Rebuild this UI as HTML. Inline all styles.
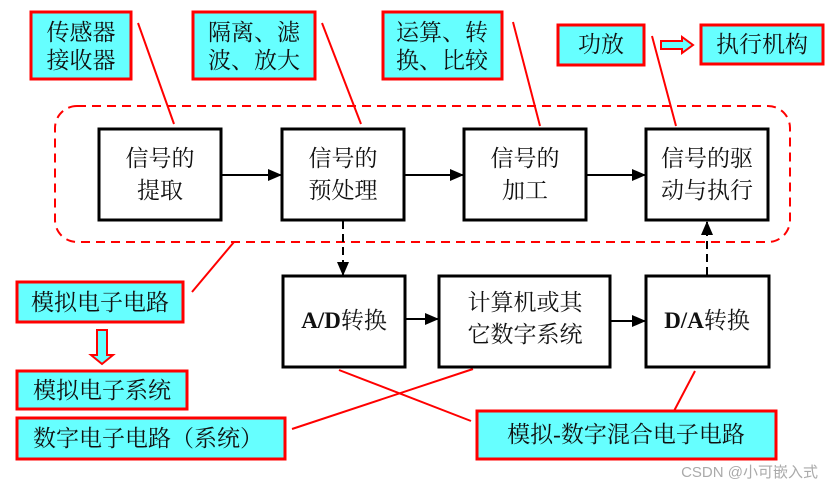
<!DOCTYPE html>
<html><head><meta charset="utf-8"><style>
html,body{margin:0;padding:0;background:#fff}
svg text{font-family:"Liberation Serif","Noto Serif CJK SC",serif;font-size:23px;fill:#111}
</style></head><body>
<svg width="834" height="492" viewBox="0 0 834 492" xmlns="http://www.w3.org/2000/svg">
<defs><marker id="a" markerWidth="14" markerHeight="12" refX="13" refY="6" orient="auto" markerUnits="userSpaceOnUse"><path d="M0,0 L14,6 L0,12Z" fill="#000"/></marker></defs>
<g fill="#66ffff" stroke="#f00" stroke-width="3">
<rect x="31" y="12" width="100" height="67"/>
<rect x="193" y="12" width="122" height="67"/>
<rect x="383" y="12" width="119" height="67"/>
<rect x="558" y="25" width="86" height="40"/>
<rect x="701" y="25" width="122" height="39"/>
<rect x="17" y="282" width="166" height="40"/>
<rect x="17" y="371" width="170" height="38"/>
<rect x="17" y="418" width="268" height="41"/>
<rect x="477" y="411" width="299" height="48"/>
</g>
<path d="M661,41 H682 V37 L693,45 L682,53 V49 H661Z" fill="#66ffff" stroke="#f00" stroke-width="2"/>
<path d="M97,330 H107 V355 H113 L102,364 L91,355 H97Z" fill="#66ffff" stroke="#f00" stroke-width="2"/>
<rect x="55" y="106" width="735" height="136" rx="22" fill="none" stroke="#f00" stroke-width="2" stroke-dasharray="9,6"/>
<g stroke="#f00" stroke-width="2">
<line x1="138" y1="23" x2="174" y2="124"/>
<line x1="322" y1="23" x2="361" y2="124"/>
<line x1="513" y1="22" x2="540" y2="126"/>
<line x1="652" y1="36" x2="676" y2="126"/>
<line x1="192" y1="292" x2="234" y2="242"/>
<line x1="339" y1="370" x2="471" y2="421"/>
<line x1="473" y1="369" x2="292" y2="429"/>
<line x1="695" y1="371" x2="674" y2="411"/>
</g>
<g fill="#fff" stroke="#000" stroke-width="3">
<rect x="99" y="129" width="122" height="91"/>
<rect x="282" y="129" width="122" height="91"/>
<rect x="464" y="129" width="122" height="91"/>
<rect x="646" y="129" width="122" height="91"/>
<rect x="283" y="276" width="122" height="91"/>
<rect x="439" y="276" width="171" height="91"/>
<rect x="646" y="276" width="123" height="91"/>
</g>
<g stroke="#000" stroke-width="2">
<line x1="221" y1="175" x2="281" y2="175" marker-end="url(#a)"/>
<line x1="404" y1="175" x2="463" y2="175" marker-end="url(#a)"/>
<line x1="586" y1="175" x2="645" y2="175" marker-end="url(#a)"/>
<line x1="405" y1="319" x2="438" y2="319" marker-end="url(#a)"/>
<line x1="610" y1="321" x2="645" y2="321" marker-end="url(#a)"/>
<line x1="343" y1="221" x2="343" y2="275" stroke-dasharray="8,5" marker-end="url(#a)"/>
<line x1="707" y1="275" x2="707" y2="222" stroke-dasharray="8,5" marker-end="url(#a)"/>
</g>
<g text-anchor="middle">
<text x="81" y="40">传感器</text><text x="81" y="68">接收器</text>
<text x="254" y="40">隔离、滤</text><text x="254" y="68">波、放大</text>
<text x="442" y="40">运算、转</text><text x="442" y="68">换、比较</text>
<text x="601" y="52">功放</text><text x="762" y="52">执行机构</text>
<text x="160" y="166">信号的</text><text x="160" y="198">提取</text>
<text x="343" y="166">信号的</text><text x="343" y="198">预处理</text>
<text x="525" y="166">信号的</text><text x="525" y="198">加工</text>
<text x="707" y="166">信号的驱</text><text x="707" y="198">动与执行</text>
<text x="344" y="328"><tspan font-weight="bold">A/D</tspan>转换</text>
<text x="525" y="310">计算机或其</text><text x="525" y="342">它数字系统</text>
<text x="707" y="328"><tspan font-weight="bold">D/A</tspan>转换</text>
<text x="100" y="310">模拟电子电路</text>
<text x="102" y="398">模拟电子系统</text>
<text x="148" y="446">数字电子电路（系统）</text>
<text x="626" y="442">模拟-数字混合电子电路</text>
</g>
<text x="818" y="477" text-anchor="end" style="font-family:'Liberation Sans','Noto Sans CJK SC',sans-serif;font-size:15px;fill:#aaa">CSDN @小可嵌入式</text>
</svg>
</body></html>
